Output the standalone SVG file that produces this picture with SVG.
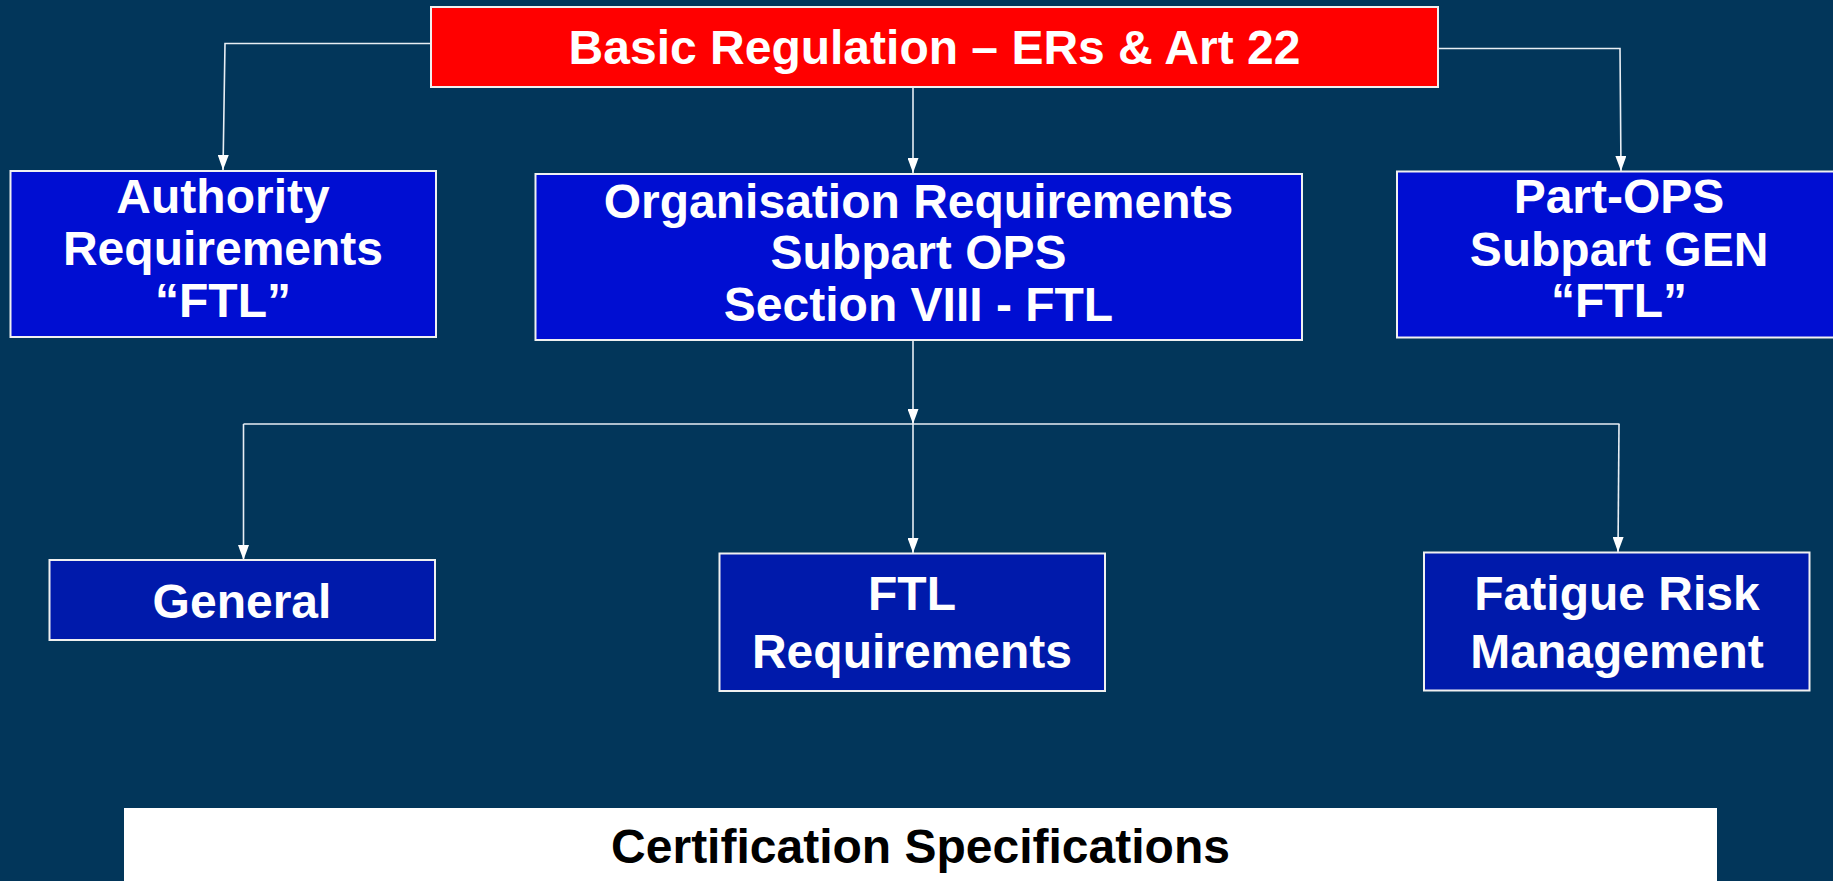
<svg xmlns="http://www.w3.org/2000/svg" width="1833" height="881" viewBox="0 0 1833 881">
<defs>
<marker id="arr" viewBox="0 0 15 11" markerWidth="15" markerHeight="11" refX="15" refY="5.5" orient="auto" markerUnits="userSpaceOnUse">
<path d="M0,0 L15,5.5 L0,11 z" fill="#ffffff"/>
</marker>
<style>
.bg{fill:#02365a}
.red{fill:#ff0000;stroke:#f0f0f0;stroke-width:2}
.top{fill:#000ed2;stroke:#f0f0f0;stroke-width:2}
.bot{fill:#001aab;stroke:#f0f0f0;stroke-width:2}
.cs{fill:#ffffff}
.t{font-family:"Liberation Sans",Arial,sans-serif;font-weight:bold;font-size:48px;fill:#ffffff;text-anchor:middle}
.tb{font-family:"Liberation Sans",Arial,sans-serif;font-weight:bold;font-size:48px;fill:#000000;text-anchor:middle}
.c{fill:none;stroke:#e8eef4;stroke-width:1.6}
.ca{fill:none;stroke:#e8eef4;stroke-width:1.6;marker-end:url(#arr)}
</style>
</defs>
<rect class="bg" x="0" y="0" width="1833" height="881"/>
<g id="connectors">
<polyline class="ca" points="431,43.5 225,43.5 223,170"/>
<polyline class="ca" points="913,87 913,173"/>
<polyline class="ca" points="1438,48.5 1620,48.5 1621,171"/>
<polyline class="ca" points="913,340 913,424"/>
<polyline class="c" points="243.5,424 1619.5,424"/>
<polyline class="ca" points="243.5,424 243.5,560"/>
<polyline class="ca" points="913,424 913,553"/>
<polyline class="ca" points="1619,424 1618,552"/>
</g>
<g id="basic-regulation">
<rect class="red" x="431" y="7" width="1007" height="80"/>
<text class="t" x="934.5" y="64">Basic Regulation – ERs &amp; Art 22</text>
</g>
<g id="authority">
<rect class="top" x="10.5" y="171" width="425.5" height="166"/>
<text class="t" x="223" y="213">Authority</text>
<text class="t" x="223" y="265">Requirements</text>
<text class="t" x="223" y="317">“FTL”</text>
</g>
<g id="organisation">
<rect class="top" x="535.5" y="174" width="766.5" height="166"/>
<text class="t" x="918.5" y="218">Organisation Requirements</text>
<text class="t" x="918.5" y="269">Subpart OPS</text>
<text class="t" x="918.5" y="321">Section VIII - FTL</text>
</g>
<g id="part-ops">
<rect class="top" x="1397" y="171.5" width="444" height="166"/>
<text class="t" x="1619" y="213">Part-OPS</text>
<text class="t" x="1619" y="266">Subpart GEN</text>
<text class="t" x="1619" y="317">“FTL”</text>
</g>
<g id="general">
<rect class="bot" x="49.5" y="560" width="385.5" height="80"/>
<text class="t" x="242" y="618">General</text>
</g>
<g id="ftl-requirements">
<rect class="bot" x="719.5" y="553.5" width="385.5" height="137.5"/>
<text class="t" x="912" y="610">FTL</text>
<text class="t" x="912" y="668">Requirements</text>
</g>
<g id="fatigue-risk">
<rect class="bot" x="1424" y="552.5" width="385.5" height="138"/>
<text class="t" x="1617" y="610">Fatigue Risk</text>
<text class="t" x="1617" y="668">Management</text>
</g>
<g id="certification-specifications">
<rect class="cs" x="124" y="808" width="1593" height="80"/>
<text class="tb" x="920.5" y="863">Certification Specifications</text>
</g>
</svg>
